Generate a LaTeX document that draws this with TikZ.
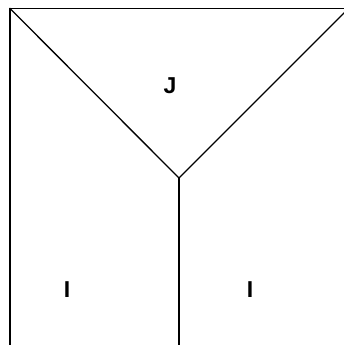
\documentclass[tikz,border=0pt]{standalone}
\usepackage{fontspec}
\setmainfont{Liberation Sans}
\begin{document}
\begin{tikzpicture}[x=1pt,y=-1pt,
  edge/.style={line width=1.3pt,line cap=rect},
  lbl/.style={font=\fontsize{23}{26}\selectfont\bfseries,inner sep=0pt}]
\useasboundingbox (0,0) rectangle (344,345);
\coordinate (tl) at (10,8.5);
\coordinate (tr) at (344,8.5);
\coordinate (c) at (179,178);
\coordinate (re) at (344,13);
\coordinate (bl) at (10,345);
\coordinate (bm) at (179,345);
\draw[edge] (tr) -- (tl) -- (bl);
\draw[edge] (tl) -- (c) -- (re);
\draw[edge] (c) -- (bm);
\node[lbl] (J) at (170,86) {J};
\node[lbl] (I1) at (67,290) {I};
\node[lbl] (I2) at (250,290) {I};
\end{tikzpicture}
\end{document}
